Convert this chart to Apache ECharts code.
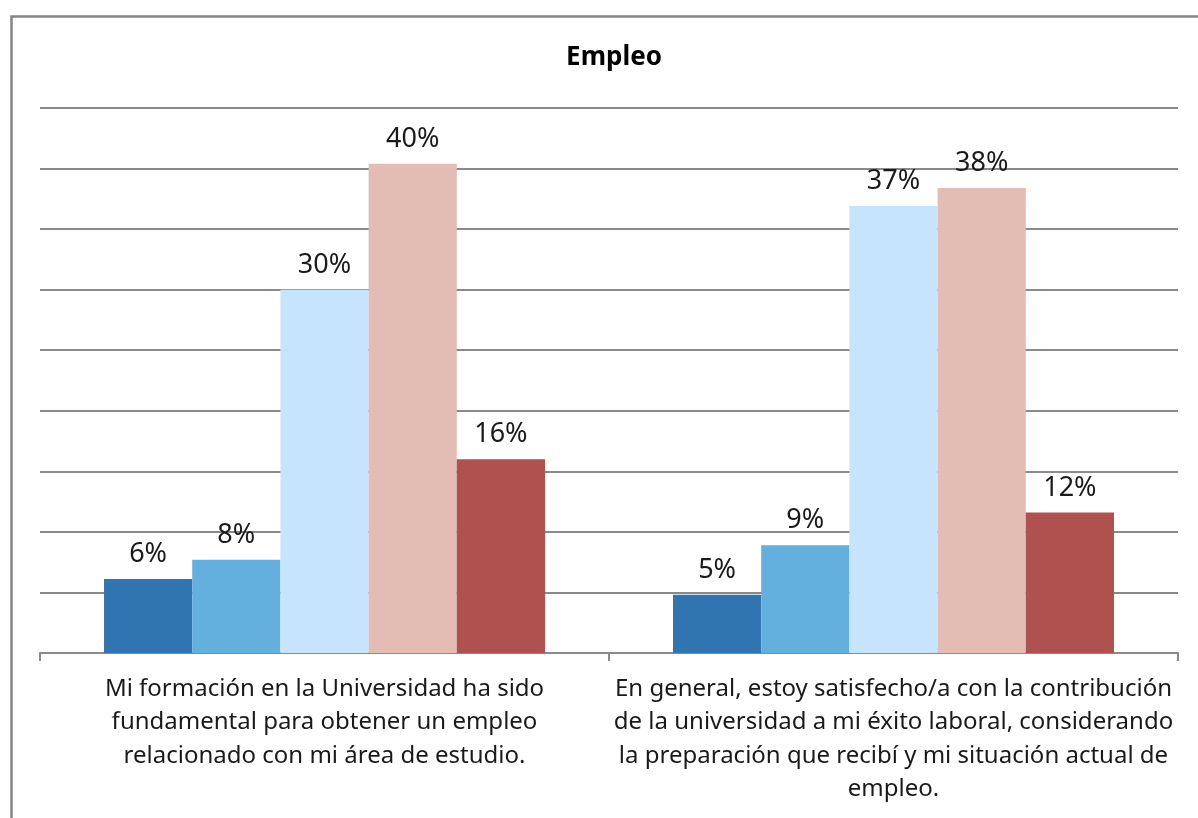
<!DOCTYPE html>
<html>
<head>
<meta charset="utf-8">
<title>Empleo</title>
<script src="https://cdn.jsdelivr.net/npm/echarts@6/dist/echarts.min.js"></script>
<style>
  html, body { margin: 0; padding: 0; background: #fff; }
  #main { width: 1198px; height: 818px; }
</style>
</head>
<body>
<div id="main"></div>
<script>
// categorías (texto con los saltos de línea del original)
var categories = [
  "Mi formación en la Universidad ha sido\nfundamental para obtener un empleo\nrelacionado con mi área de estudio.",
  "En general, estoy satisfecho/a con la contribución\nde la universidad a mi éxito laboral, considerando\nla preparación que recibí y mi situación actual de\nempleo."
];

// porcentajes (una serie por respuesta)
var serie1 = [6.1, 4.8];
var serie2 = [7.7, 8.9];
var serie3 = [30.0, 36.9];
var serie4 = [40.4, 38.4];
var serie5 = [16.0, 11.6];

var seriesNames = ["Serie 1", "Serie 2", "Serie 3", "Serie 4", "Serie 5"];
var seriesColors = ["#3175b0", "#63afdd", "#c6e4fc", "#e3bcb3", "#af514e"];
var seriesData = [serie1, serie2, serie3, serie4, serie5];

var yMin = 0, yMax = 45, yStep = 5;

var font = "'Noto Sans', 'Open Sans', sans-serif";

var chart = echarts.init(document.getElementById("main"));

var series = [];
for (var i = 0; i < seriesData.length; i++) {
  series.push({
    name: seriesNames[i],
    type: "bar",
    data: seriesData[i],
    barGap: "0%",
    barCategoryGap: "22.5%",
    itemStyle: { color: seriesColors[i] },
    label: {
      show: true,
      position: "top",
      distance: 11,
      color: "#1a1a1a",
      fontFamily: font,
      fontSize: 27,
      formatter: function (p) { return Math.round(p.value) + "%"; }
    }
  });
}

var option = {
  animation: false,
  backgroundColor: "#fff",
  title: {
    text: "Empleo",
    left: 609,
    textAlign: "center",
    top: 40,
    textStyle: { fontFamily: font, fontSize: 26, fontWeight: "bold", color: "#000" }
  },
  // marco exterior
  graphic: [{
    type: "rect",
    left: 9,
    top: 14,
    shape: { width: 1300, height: 900 },
    style: { fill: "none", stroke: "#858585", lineWidth: 2.5 },
    silent: true
  }],
  grid: { left: 40, right: 20, top: 108, bottom: 165 },
  xAxis: {
    type: "category",
    data: categories,
    axisLine: { lineStyle: { color: "#8a8a8a", width: 2 } },
    axisTick: { show: true, length: 8, lineStyle: { color: "#8a8a8a", width: 2 } },
    axisLabel: {
      interval: 0,
      margin: 19,
      color: "#1a1a1a",
      fontFamily: font,
      fontSize: 24,
      lineHeight: 33.5,
      align: "center"
    }
  },
  yAxis: {
    type: "value",
    min: yMin,
    max: yMax,
    interval: yStep,
    axisLine: { show: false },
    axisTick: { show: false },
    axisLabel: { show: false },
    splitLine: { lineStyle: { color: "#8a8a8a", width: 2 } }
  },
  series: series
};

chart.setOption(option);
</script>
</body>
</html>
